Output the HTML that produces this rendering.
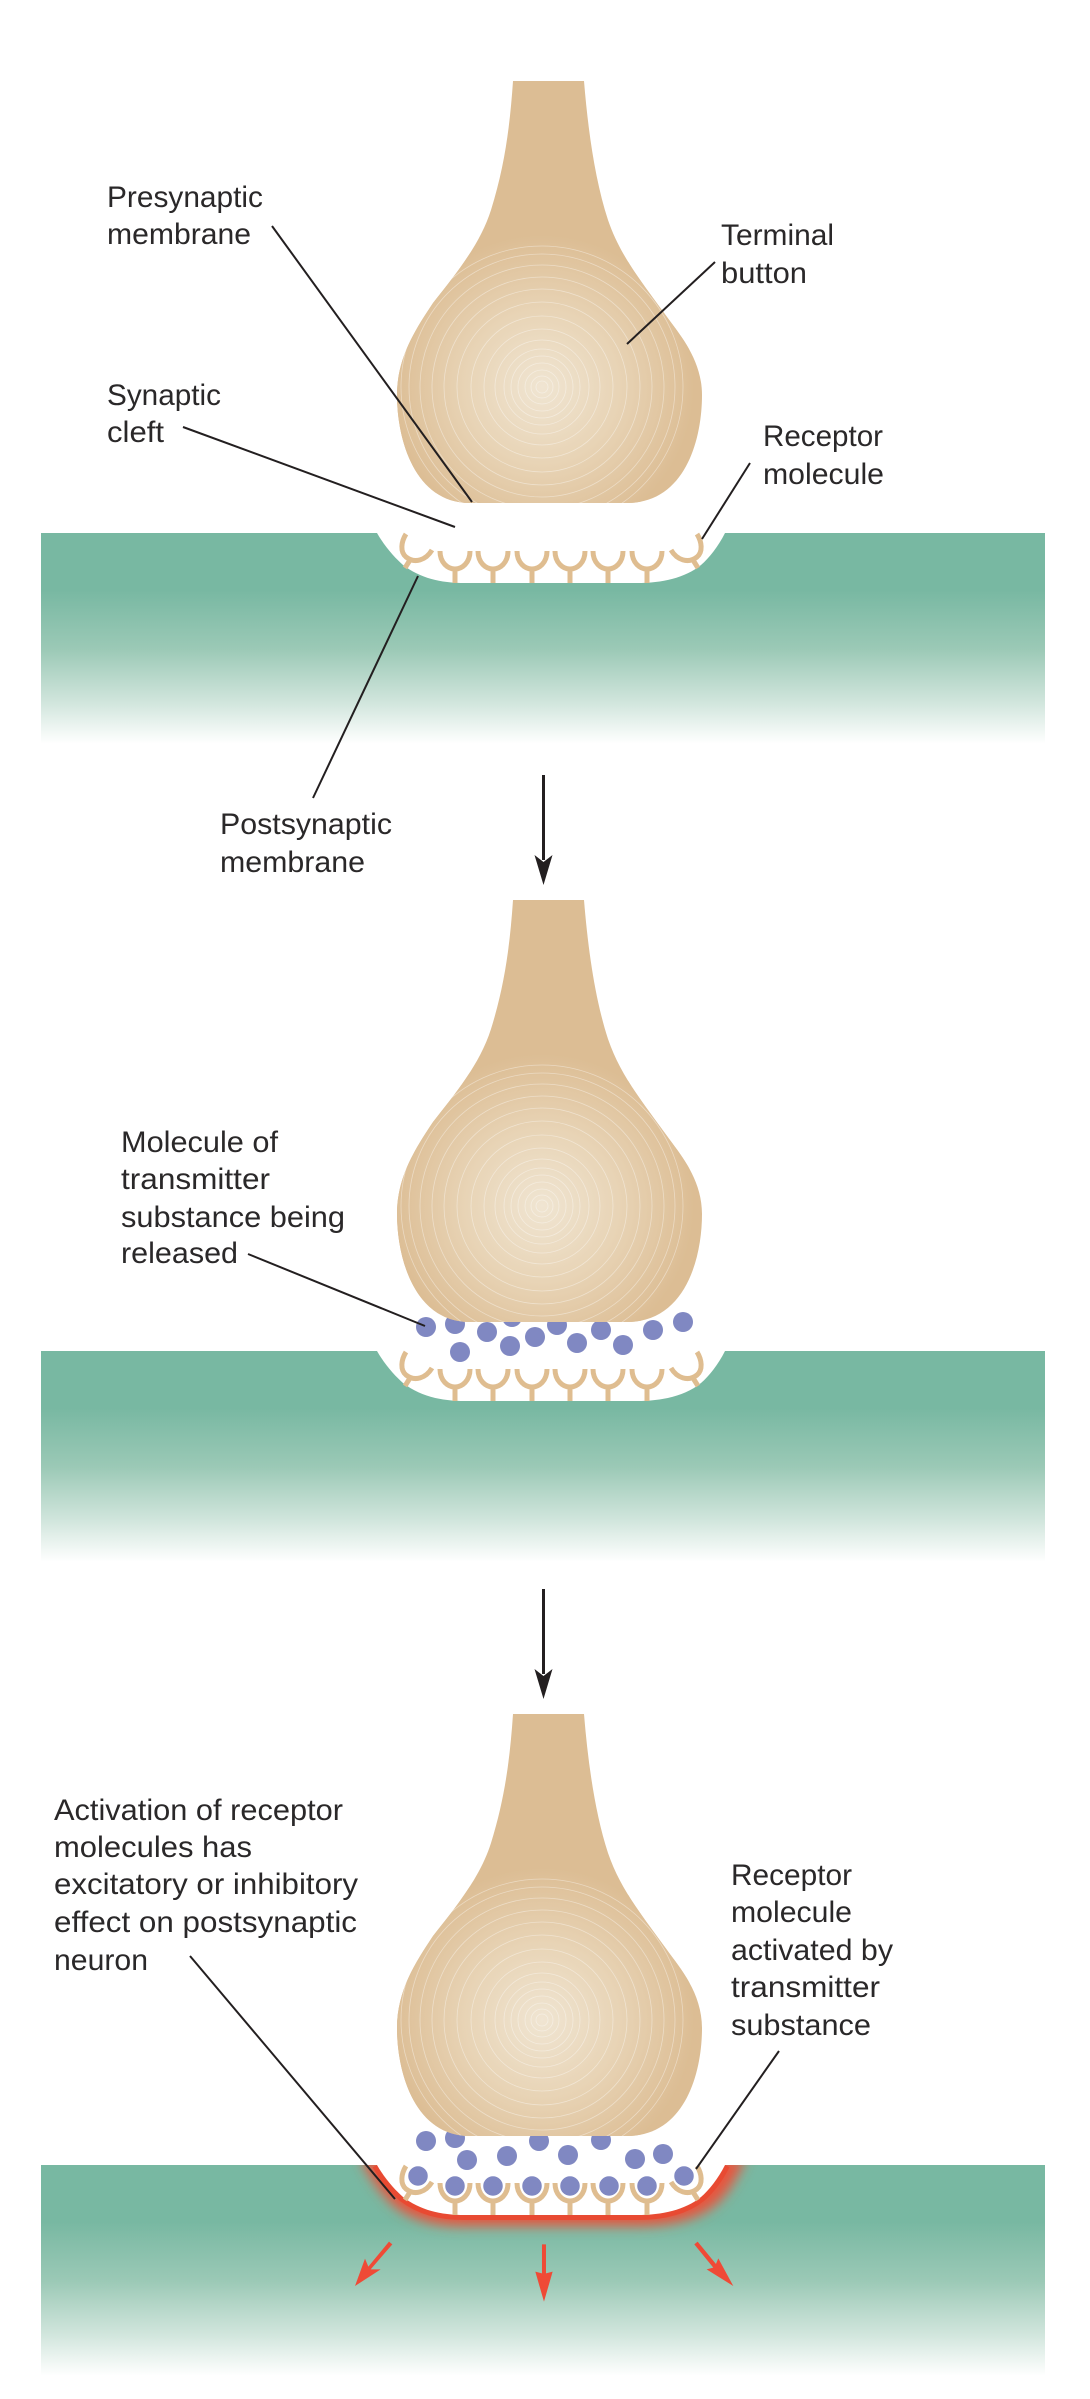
<!DOCTYPE html>
<html>
<head>
<meta charset="utf-8">
<style>
html,body{margin:0;padding:0;background:#fff}
svg{display:block}
text{font-family:"Liberation Sans",sans-serif;font-size:30px;fill:#2a2829}
</style>
</head>
<body>
<svg xmlns="http://www.w3.org/2000/svg" width="1090" height="2399" viewBox="0 0 1090 2399">
<defs>
  <linearGradient id="g" x1="0" y1="0" x2="0" y2="1">
    <stop offset="0" stop-color="#78b8a2"/>
    <stop offset=".27" stop-color="#78b8a2"/>
    <stop offset=".55" stop-color="#9bc9b6"/>
    <stop offset=".8" stop-color="#d0e5dc"/>
    <stop offset=".96" stop-color="#f6faf8"/>
    <stop offset="1" stop-color="#ffffff"/>
  </linearGradient>
  <radialGradient id="rg" gradientUnits="userSpaceOnUse" cx="542" cy="387" r="152">
    <stop offset="0" stop-color="#f0e5d2"/>
    <stop offset=".5" stop-color="#e8d4b6"/>
    <stop offset="1" stop-color="#dcbd94"/>
  </radialGradient>
  <clipPath id="bc"><path d="M513,81 C510,125 505,165 491,210 C480,245 455,275 433,303 C415,330 397,358 397,395 C397,440 415,503 470,503 L627,503 C685,503 702,440 702,395 C702,360 680,335 667,317 C640,280 620,255 608,220 C595,180 588,130 584,81 Z"/></clipPath>
  <filter id="bl" x="-20%" y="-50%" width="140%" height="200%"><feGaussianBlur stdDeviation="6"/></filter>
  <clipPath id="gc"><rect x="41" y="2165" width="1004" height="211"/></clipPath>
  <g id="bulb">
    <path d="M513,81 C510,125 505,165 491,210 C480,245 455,275 433,303 C415,330 397,358 397,395 C397,440 415,503 470,503 L627,503 C685,503 702,440 702,395 C702,360 680,335 667,317 C640,280 620,255 608,220 C595,180 588,130 584,81 Z" fill="#dcbd94"/>
    <g clip-path="url(#bc)">
      <circle cx="542" cy="387" r="152" fill="url(#rg)"/>
      <g fill="none" stroke="#fff" stroke-opacity=".4" stroke-width=".8">
        <circle cx="542" cy="387" r="6"/><circle cx="542" cy="387" r="11"/><circle cx="542" cy="387" r="17"/>
        <circle cx="542" cy="387" r="24"/><circle cx="542" cy="387" r="31"/><circle cx="542" cy="387" r="38"/>
        <circle cx="542" cy="387" r="47"/><circle cx="542" cy="387" r="58"/><circle cx="542" cy="387" r="71"/>
        <circle cx="542" cy="387" r="85"/><circle cx="542" cy="387" r="98"/><circle cx="542" cy="387" r="110"/>
        <circle cx="542" cy="387" r="122"/><circle cx="542" cy="387" r="133"/><circle cx="542" cy="387" r="141"/>
      </g>
    </g>
  </g>
  <g id="recs" fill="none" stroke="#dfbd90" stroke-width="5">
    <path d="M440,551 C440,563 448,569 455,569 S470,563 470,551 M455,569 V583"/>
    <path d="M478,551 C478,563 486,569 493,569 S508,563 508,551 M493,569 V583"/>
    <path d="M517,551 C517,563 525,569 532,569 S547,563 547,551 M532,569 V583"/>
    <path d="M555,551 C555,563 563,569 570,569 S585,563 585,551 M570,569 V583"/>
    <path d="M593,551 C593,563 601,569 608,569 S623,563 623,551 M608,569 V583"/>
    <path d="M632,551 C632,563 640,569 647,569 S662,563 662,551 M647,569 V583"/>
    <path d="M406,534 C401,542 400,552 406,557 C415,564 426,560 432,550 M410,560 L405,568"/>
    <path d="M697,534 C702,542 703,552 697,557 C688,564 677,560 671,550 M693,560 L698,568"/>
  </g>
  <path id="pit" d="M377,533 C385,547 395,558 403,565 C420,578 440,583 465,583 L637,583 C662,583 685,578 701,565 C709,558 718,547 725,533 Z"/>
</defs>

<!-- Panel 1 -->
<rect x="41" y="533" width="1004" height="211" fill="url(#g)"/>
<use href="#pit" fill="#fff"/>
<use href="#recs"/>
<use href="#bulb"/>

<!-- Panel 2 -->
<rect x="41" y="1351" width="1004" height="211" fill="url(#g)"/>
<use href="#pit" y="818" fill="#fff"/>
<use href="#recs" y="818"/>
<g fill="#8088c2">
  <circle cx="426" cy="1327" r="10"/><circle cx="455" cy="1324" r="10"/><circle cx="487" cy="1332" r="10"/>
  <circle cx="512" cy="1317" r="10"/><circle cx="535" cy="1337" r="10"/><circle cx="510" cy="1346" r="10"/>
  <circle cx="460" cy="1352" r="10"/><circle cx="557" cy="1325" r="10"/><circle cx="577" cy="1343" r="10"/>
  <circle cx="601" cy="1330" r="10"/><circle cx="623" cy="1345" r="10"/><circle cx="653" cy="1330" r="10"/>
  <circle cx="683" cy="1322" r="10"/>
</g>
<use href="#bulb" y="819"/>

<!-- Panel 3 -->
<rect x="41" y="2165" width="1004" height="211" fill="url(#g)"/>
<g clip-path="url(#gc)">
  <path d="M360,2158 C374,2185 388,2203 403,2212 C420,2222 440,2226 465,2226 L637,2226 C662,2226 690,2222 708,2210 C722,2202 734,2185 746,2158 Z" fill="#e8553c" filter="url(#bl)"/>
  <path d="M377,2165 C385,2179 395,2190 403,2197 C420,2210 440,2215 465,2215 L637,2215 C662,2215 685,2210 701,2197 C709,2190 718,2179 725,2165" fill="none" stroke="#e84a32" stroke-width="10"/>
</g>
<use href="#pit" y="1632" fill="#fff"/>
<use href="#recs" y="1632"/>
<g fill="#8088c2">
  <circle cx="426" cy="2141" r="10"/><circle cx="455" cy="2138" r="10"/><circle cx="467" cy="2160" r="10"/>
  <circle cx="507" cy="2156" r="10"/><circle cx="539" cy="2141" r="10"/><circle cx="568" cy="2155" r="10"/>
  <circle cx="601" cy="2140" r="10"/><circle cx="635" cy="2159" r="10"/><circle cx="663" cy="2154" r="10"/>
</g>
<g fill="#8088c2" stroke="#fff" stroke-width="1.5">
  <circle cx="418" cy="2176" r="10.5"/><circle cx="455" cy="2186" r="10.5"/><circle cx="493" cy="2186" r="10.5"/>
  <circle cx="532" cy="2186" r="10.5"/><circle cx="570" cy="2186" r="10.5"/><circle cx="609" cy="2186" r="10.5"/>
  <circle cx="647" cy="2186" r="10.5"/><circle cx="684" cy="2176" r="10.5"/>
</g>
<use href="#bulb" y="1633"/>

<!-- Red arrows -->
<g transform="translate(340,2110) scale(.3333)" fill="#ef4a36" stroke="none">
  <path d="M147,395 L157,403 L92,478 L122,478 L45,528 L75,446 L85,470 Z"/>
  <path d="M606,403 H618 V490 L638,485 L612,575 L586,485 L606,490 Z"/>
  <path d="M1073,395 L1063,403 L1120,473 L1100,478 L1180,528 L1135,445 L1128,462 Z"/>
</g>

<!-- Black arrows -->
<g fill="#231f20">
  <rect x="542" y="775" width="3" height="85"/>
  <path d="M534.5,855 L543.5,862 L552.5,855 L543.5,885 Z"/>
  <rect x="542" y="1589" width="3" height="85"/>
  <path d="M534.5,1669 L543.5,1676 L552.5,1669 L543.5,1699 Z"/>
</g>

<!-- Leader lines -->
<g stroke="#231f20" stroke-width="2" fill="none">
  <line x1="272" y1="226" x2="472" y2="502"/>
  <line x1="183" y1="427" x2="455" y2="527"/>
  <line x1="715" y1="262" x2="627" y2="344"/>
  <line x1="750" y1="463" x2="702" y2="539"/>
  <line x1="418" y1="576" x2="313" y2="798"/>
  <line x1="248" y1="1254" x2="425" y2="1326"/>
  <line x1="190" y1="1956" x2="395" y2="2199"/>
  <line x1="779" y1="2051" x2="696" y2="2169"/>
</g>

<!-- Labels -->
<g>
<text x="107" y="207" textLength="156" lengthAdjust="spacingAndGlyphs">Presynaptic</text>
<text x="107" y="244" textLength="144" lengthAdjust="spacingAndGlyphs">membrane</text>
<text x="107" y="405" textLength="114" lengthAdjust="spacingAndGlyphs">Synaptic</text>
<text x="107" y="442" textLength="57" lengthAdjust="spacingAndGlyphs">cleft</text>
<text x="721" y="245" textLength="113" lengthAdjust="spacingAndGlyphs">Terminal</text>
<text x="721" y="283" textLength="86" lengthAdjust="spacingAndGlyphs">button</text>
<text x="763" y="446" textLength="120" lengthAdjust="spacingAndGlyphs">Receptor</text>
<text x="763" y="484" textLength="121" lengthAdjust="spacingAndGlyphs">molecule</text>
<text x="220" y="834" textLength="172" lengthAdjust="spacingAndGlyphs">Postsynaptic</text>
<text x="220" y="872" textLength="145" lengthAdjust="spacingAndGlyphs">membrane</text>
<text x="121" y="1152" textLength="157" lengthAdjust="spacingAndGlyphs">Molecule of</text>
<text x="121" y="1189" textLength="149" lengthAdjust="spacingAndGlyphs">transmitter</text>
<text x="121" y="1227" textLength="224" lengthAdjust="spacingAndGlyphs">substance being</text>
<text x="121" y="1263" textLength="117" lengthAdjust="spacingAndGlyphs">released</text>
<text x="54" y="1820" textLength="289" lengthAdjust="spacingAndGlyphs">Activation of receptor</text>
<text x="54" y="1857" textLength="198" lengthAdjust="spacingAndGlyphs">molecules has</text>
<text x="54" y="1894" textLength="304" lengthAdjust="spacingAndGlyphs">excitatory or inhibitory</text>
<text x="54" y="1932" textLength="303" lengthAdjust="spacingAndGlyphs">effect on postsynaptic</text>
<text x="54" y="1970" textLength="94" lengthAdjust="spacingAndGlyphs">neuron</text>
<text x="731" y="1885" textLength="121" lengthAdjust="spacingAndGlyphs">Receptor</text>
<text x="731" y="1922" textLength="121" lengthAdjust="spacingAndGlyphs">molecule</text>
<text x="731" y="1960" textLength="162" lengthAdjust="spacingAndGlyphs">activated by</text>
<text x="731" y="1997" textLength="149" lengthAdjust="spacingAndGlyphs">transmitter</text>
<text x="731" y="2035" textLength="140" lengthAdjust="spacingAndGlyphs">substance</text>
</g>
</svg>
</body>
</html>
